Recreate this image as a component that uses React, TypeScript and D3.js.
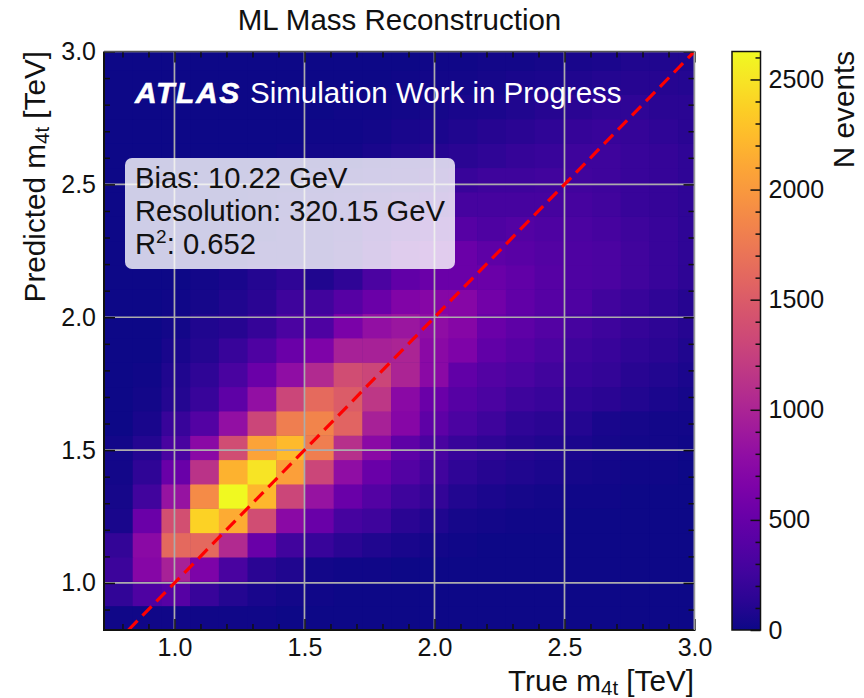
import React, { useRef, useEffect } from 'react';
import * as d3 from 'd3';

// bin counts, bottom row first, left column first
const row00 = [20, 20, 20, 20, 15, 15, 10, 10, 10, 10, 5, 5, 5, 5, 5, 0, 0, 0, 0, 0, 0];
const row01 = [170, 340, 400, 210, 100, 50, 25, 15, 10, 10, 5, 5, 5, 5, 5, 0, 0, 0, 0, 0, 0];
const row02 = [230, 710, 970, 650, 310, 130, 80, 30, 20, 15, 10, 10, 5, 5, 5, 5, 0, 0, 0, 0, 0];
const row03 = [180, 740, 1620, 1620, 1050, 520, 260, 210, 130, 80, 50, 30, 15, 10, 5, 5, 5, 5, 0, 0, 0];
const row04 = [50, 530, 1390, 2390, 2130, 1370, 740, 520, 290, 240, 130, 80, 40, 30, 20, 15, 10, 5, 5, 5, 0];
const row05 = [40, 260, 840, 1890, 2620, 2210, 1310, 840, 520, 370, 240, 180, 90, 60, 40, 30, 20, 15, 10, 5, 5];
const row06 = [25, 160, 520, 1130, 2180, 2500, 2050, 1310, 790, 520, 370, 260, 160, 110, 80, 60, 40, 25, 20, 15, 10];
const row07 = [25, 100, 310, 740, 1370, 2080, 2230, 1790, 1100, 740, 450, 310, 210, 160, 110, 80, 60, 40, 30, 25, 15];
const row08 = [10, 50, 210, 370, 810, 1310, 1790, 1840, 1580, 970, 710, 450, 320, 240, 160, 130, 100, 50, 40, 30, 25];
const row09 = [5, 25, 100, 210, 450, 810, 1310, 1630, 1500, 1160, 740, 525, 390, 320, 240, 210, 160, 130, 90, 60, 40];
const row10 = [5, 15, 80, 160, 310, 530, 790, 1050, 1370, 1310, 1000, 740, 470, 370, 320, 260, 210, 180, 120, 90, 60];
const row11 = [5, 10, 50, 100, 210, 340, 530, 660, 970, 970, 1000, 740, 660, 470, 390, 320, 240, 210, 160, 130, 80];
const row12 = [0, 5, 25, 80, 110, 190, 320, 340, 630, 810, 870, 790, 710, 530, 450, 370, 290, 240, 190, 150, 110];
const row13 = [0, 5, 15, 40, 80, 130, 240, 260, 390, 530, 680, 710, 710, 580, 470, 390, 340, 260, 210, 160, 110];
const row14 = [0, 5, 10, 25, 50, 100, 160, 80, 160, 320, 470, 525, 525, 525, 470, 390, 340, 320, 260, 210, 150];
const row15 = [0, 0, 5, 15, 30, 50, 60, 70, 130, 260, 470, 525, 525, 450, 420, 370, 340, 320, 260, 210, 160];
const row16 = [0, 0, 5, 10, 20, 30, 50, 70, 110, 210, 290, 370, 400, 340, 370, 340, 320, 290, 240, 210, 160];
const row17 = [0, 0, 0, 5, 10, 20, 40, 60, 80, 130, 180, 240, 290, 290, 290, 290, 290, 260, 210, 190, 160];
const row18 = [0, 0, 0, 5, 5, 15, 25, 40, 50, 80, 110, 160, 210, 240, 240, 260, 260, 240, 210, 190, 160];
const row19 = [0, 0, 0, 0, 5, 10, 15, 25, 30, 50, 80, 110, 130, 160, 190, 210, 240, 240, 210, 190, 160];
const row20 = [0, 0, 0, 0, 0, 5, 10, 15, 20, 30, 50, 60, 80, 110, 130, 160, 190, 210, 190, 160, 130];
const row21 = [0, 0, 0, 0, 0, 0, 5, 10, 15, 20, 30, 40, 50, 60, 80, 110, 130, 160, 160, 130, 130];
const row22 = [0, 0, 0, 0, 0, 0, 0, 5, 10, 10, 20, 25, 30, 40, 50, 60, 80, 100, 110, 110, 100];
const row23 = [0, 0, 0, 0, 0, 0, 0, 0, 5, 5, 10, 15, 20, 25, 30, 40, 50, 60, 80, 80, 80];
const counts = [row00, row01, row02, row03, row04, row05, row06, row07, row08, row09, row10, row11,
    row12, row13, row14, row15, row16, row17, row18, row19, row20, row21, row22, row23];

const xDomain = [0.729, 3.0];
const yDomain = [0.823, 3.0];
const xBinWidth = 0.1104;
const yBinWidth = 0.0916;
const countMax = 2627;

const majorTicks = [1.0, 1.5, 2.0, 2.5, 3.0];
const minorTicksX = [0.8, 0.9, 1.1, 1.2, 1.3, 1.4, 1.6, 1.7, 1.8, 1.9, 2.1, 2.2, 2.3, 2.4, 2.6, 2.7, 2.8, 2.9];
const minorTicksY = [0.9, 1.1, 1.2, 1.3, 1.4, 1.6, 1.7, 1.8, 1.9, 2.1, 2.2, 2.3, 2.4, 2.6, 2.7, 2.8, 2.9];
const cbarMajor = [0, 500, 1000, 1500, 2000, 2500];
const cbarMinor = [100, 200, 300, 400, 600, 700, 800, 900, 1100, 1200, 1300, 1400, 1600, 1700, 1800, 1900, 2100, 2200, 2300, 2400, 2600];

const statsLines = ['Bias: 10.22 GeV', 'Resolution: 320.15 GeV'];

const FONT = '"Liberation Sans", Arial, sans-serif';

const App: React.FC = () => {
    const svgRef = useRef<SVGSVGElement>(null);

    useEffect(() => {
        if (!svgRef.current) return;
        const svg = d3.select(svgRef.current);
        svg.selectAll('*').remove();
        svg.style('font-family', FONT);

        const plot = { left: 104, right: 694.5, top: 51.5, bottom: 630 };
        const x = d3.scaleLinear().domain(xDomain).range([plot.left, plot.right]);
        const y = d3.scaleLinear().domain(yDomain).range([plot.bottom, plot.top]);
        const color = (v: number) => d3.interpolatePlasma(v / countMax);

        const defs = svg.append('defs');
        defs.append('clipPath').attr('id', 'plot-clip').append('rect')
            .attr('x', plot.left).attr('y', plot.top)
            .attr('width', plot.right - plot.left).attr('height', plot.bottom - plot.top);

        // Heatmap
        const cells = svg.append('g').attr('clip-path', 'url(#plot-clip)');
        cells.append('rect')
            .attr('x', plot.left).attr('y', plot.top)
            .attr('width', plot.right - plot.left).attr('height', plot.bottom - plot.top)
            .attr('fill', color(0));
        counts.forEach((row, j) => {
            row.forEach((v, i) => {
                const x0 = x(xDomain[0] + i * xBinWidth);
                const x1 = x(xDomain[0] + (i + 1) * xBinWidth);
                const y0 = y(yDomain[0] + j * yBinWidth);
                const y1 = y(yDomain[0] + (j + 1) * yBinWidth);
                cells.append('rect')
                    .attr('x', x0).attr('y', y1)
                    .attr('width', x1 - x0 + 0.5).attr('height', y0 - y1 + 0.5)
                    .attr('fill', color(v));
            });
        });

        // Grid
        const grid = svg.append('g').attr('clip-path', 'url(#plot-clip)')
            .attr('stroke', '#acacac').attr('stroke-width', 1.7);
        majorTicks.forEach(t => {
            grid.append('line').attr('x1', x(t)).attr('x2', x(t)).attr('y1', plot.top).attr('y2', plot.bottom);
            grid.append('line').attr('x1', plot.left).attr('x2', plot.right).attr('y1', y(t)).attr('y2', y(t));
        });

        // Diagonal
        svg.append('line')
            .attr('clip-path', 'url(#plot-clip)')
            .attr('x1', x(yDomain[0])).attr('y1', y(yDomain[0]))
            .attr('x2', x(3)).attr('y2', y(3))
            .attr('stroke', '#ff0000').attr('stroke-width', 3.2)
            .attr('stroke-dasharray', '13,7');

        // Stats box
        svg.append('rect')
            .attr('x', 125).attr('y', 158).attr('width', 330).attr('height', 111).attr('rx', 7)
            .attr('fill', 'white').attr('fill-opacity', 0.8);
        statsLines.forEach((line, i) => {
            svg.append('text').attr('x', 135).attr('y', 188 + i * 33)
                .attr('font-size', 29.2).attr('fill', '#111').text(line);
        });
        const r2 = svg.append('text').attr('x', 135).attr('y', 254).attr('font-size', 29.2).attr('fill', '#111');
        r2.append('tspan').text('R');
        r2.append('tspan').attr('font-size', 19).attr('dy', -11).text('2');
        r2.append('tspan').attr('dy', 11).text(': 0.652');

        // ATLAS label
        svg.append('text').attr('x', 135).attr('y', 103).attr('font-size', 30)
            .attr('fill', 'white').attr('stroke', 'white').attr('stroke-width', 0.6)
            .attr('letter-spacing', 1.6)
            .attr('font-weight', 'bold').attr('font-style', 'italic').text('ATLAS');
        svg.append('text').attr('x', 250).attr('y', 103).attr('font-size', 29.5)
            .attr('fill', 'white').text('Simulation Work in Progress');

        // Axes: ticks point inwards on all four sides
        const fmt = d3.format('.1f');
        const axisStyle = (g: d3.Selection<SVGGElement, unknown, null, undefined>) => {
            g.select('.domain').remove();
            g.selectAll('line').attr('stroke', '#111').attr('stroke-width', 1.5);
            g.selectAll('text').attr('font-size', 25).attr('fill', '#111').attr('font-family', FONT);
        };
        const bottomMajor = svg.append('g').attr('transform', `translate(0,${plot.bottom})`)
            .call(d3.axisBottom(x).tickValues(majorTicks).tickFormat(d => fmt(d as number)).tickSize(-11).tickPadding(8));
        axisStyle(bottomMajor);
        axisStyle(svg.append('g').attr('transform', `translate(0,${plot.bottom})`)
            .call(d3.axisBottom(x).tickValues(minorTicksX).tickFormat(() => '').tickSize(-6)));
        axisStyle(svg.append('g').attr('transform', `translate(0,${plot.top})`)
            .call(d3.axisTop(x).tickValues(majorTicks).tickFormat(() => '').tickSize(-11)));
        axisStyle(svg.append('g').attr('transform', `translate(0,${plot.top})`)
            .call(d3.axisTop(x).tickValues(minorTicksX).tickFormat(() => '').tickSize(-6)));
        axisStyle(svg.append('g').attr('transform', `translate(${plot.left},0)`)
            .call(d3.axisLeft(y).tickValues(majorTicks).tickFormat(d => fmt(d as number)).tickSize(-11).tickPadding(8)));
        axisStyle(svg.append('g').attr('transform', `translate(${plot.left},0)`)
            .call(d3.axisLeft(y).tickValues(minorTicksY).tickFormat(() => '').tickSize(-6)));
        axisStyle(svg.append('g').attr('transform', `translate(${plot.right},0)`)
            .call(d3.axisRight(y).tickValues(majorTicks).tickFormat(() => '').tickSize(-11)));
        axisStyle(svg.append('g').attr('transform', `translate(${plot.right},0)`)
            .call(d3.axisRight(y).tickValues(minorTicksY).tickFormat(() => '').tickSize(-6)));

        // Spines
        svg.append('line').attr('x1', plot.left - 1).attr('x2', plot.right + 1).attr('y1', plot.bottom).attr('y2', plot.bottom)
            .attr('stroke', '#111').attr('stroke-width', 2);
        svg.append('line').attr('x1', plot.left).attr('x2', plot.left).attr('y1', plot.top).attr('y2', plot.bottom)
            .attr('stroke', '#111').attr('stroke-width', 2);
        svg.append('line').attr('x1', plot.left).attr('x2', plot.right).attr('y1', plot.top).attr('y2', plot.top)
            .attr('stroke', '#555').attr('stroke-width', 1.5);
        svg.append('line').attr('x1', plot.right).attr('x2', plot.right).attr('y1', plot.top).attr('y2', plot.bottom)
            .attr('stroke', '#999').attr('stroke-width', 1.5);

        // Title and axis labels
        svg.append('text').attr('x', 399.5).attr('y', 30).attr('text-anchor', 'middle')
            .attr('font-size', 29.5).attr('fill', '#111').text('ML Mass Reconstruction');

        const subLabel = (el: d3.Selection<SVGTextElement, unknown, null, undefined>, before: string, after: string) => {
            el.append('tspan').text(before);
            el.append('tspan').attr('font-size', 20.5).attr('dy', 4).text('4t');
            el.append('tspan').attr('dy', -4).text(after);
        };
        subLabel(svg.append('text').attr('x', 694).attr('y', 691).attr('text-anchor', 'end')
            .attr('font-size', 29.7).attr('fill', '#111'), 'True m', ' [TeV]');
        subLabel(svg.append('text').attr('transform', 'translate(45,51) rotate(-90)').attr('text-anchor', 'end')
            .attr('font-size', 29.7).attr('fill', '#111'), 'Predicted m', ' [TeV]');

        // Colorbar
        const cbar = { left: 732, right: 760.5 };
        const c = d3.scaleLinear().domain([0, countMax]).range([plot.bottom, plot.top]);
        const grad = defs.append('linearGradient').attr('id', 'cbar-grad')
            .attr('x1', 0).attr('x2', 0).attr('y1', 1).attr('y2', 0);
        d3.range(0, 1.001, 0.05).forEach(t => {
            grad.append('stop').attr('offset', t).attr('stop-color', d3.interpolatePlasma(t));
        });
        svg.append('rect')
            .attr('x', cbar.left).attr('y', plot.top)
            .attr('width', cbar.right - cbar.left).attr('height', plot.bottom - plot.top)
            .attr('fill', 'url(#cbar-grad)').attr('stroke', '#111').attr('stroke-width', 1.5);
        const cbarAxis = svg.append('g').attr('transform', `translate(${cbar.right},0)`)
            .call(d3.axisRight(c).tickValues(cbarMajor).tickFormat(d => String(d)).tickSize(-10).tickPadding(8));
        axisStyle(cbarAxis);
        axisStyle(svg.append('g').attr('transform', `translate(${cbar.right},0)`)
            .call(d3.axisRight(c).tickValues(cbarMinor).tickFormat(() => '').tickSize(-5)));

        svg.append('text').attr('transform', 'translate(854,51) rotate(-90)').attr('text-anchor', 'end')
            .attr('font-size', 29.7).attr('fill', '#111').text('N events');
    }, []);

    return (
        <svg
            ref={svgRef}
            width={864}
            height={698}
            style={{ position: 'absolute', left: 0, top: 0, display: 'block', background: 'white' }}
        />
    );
};

export default App;
